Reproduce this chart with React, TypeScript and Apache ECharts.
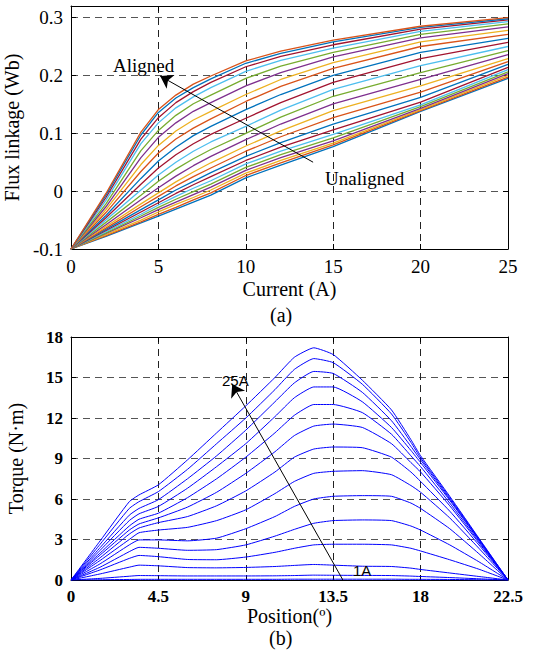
import React, { useEffect, useRef } from "react";
import * as echarts from "echarts";

// ---------- (a) Flux linkage vs current ----------
const currentA = [0, 2, 4, 5, 6, 7, 8, 10, 12, 15, 20, 25];
// curves from unaligned (index 0, bottom) to aligned (index 22, top)
const fluxCurves: number[][] = [
  [-0.1, -0.078, -0.055, -0.043, -0.031, -0.019, -0.007, 0.023, 0.045, 0.077, 0.138, 0.195],
  [-0.1, -0.077, -0.053, -0.04, -0.028, -0.015, -0.003, 0.027, 0.049, 0.08, 0.139, 0.197],
  [-0.1, -0.075, -0.05, -0.036, -0.023, -0.011, 0.002, 0.031, 0.053, 0.083, 0.141, 0.2],
  [-0.1, -0.073, -0.046, -0.032, -0.019, -0.006, 0.007, 0.036, 0.058, 0.087, 0.143, 0.203],
  [-0.1, -0.072, -0.043, -0.028, -0.014, -0.001, 0.012, 0.041, 0.063, 0.092, 0.146, 0.206],
  [-0.1, -0.07, -0.04, -0.024, -0.009, 0.005, 0.018, 0.047, 0.069, 0.098, 0.149, 0.21],
  [-0.1, -0.068, -0.036, -0.02, -0.004, 0.011, 0.025, 0.053, 0.076, 0.106, 0.154, 0.214],
  [-0.1, -0.066, -0.032, -0.015, 0.002, 0.017, 0.032, 0.06, 0.084, 0.116, 0.162, 0.219],
  [-0.1, -0.064, -0.027, -0.009, 0.009, 0.025, 0.04, 0.069, 0.094, 0.127, 0.171, 0.224],
  [-0.1, -0.061, -0.022, -0.003, 0.016, 0.033, 0.049, 0.078, 0.104, 0.139, 0.182, 0.229],
  [-0.1, -0.058, -0.015, 0.006, 0.026, 0.044, 0.06, 0.089, 0.116, 0.151, 0.193, 0.236],
  [-0.1, -0.054, -0.007, 0.017, 0.038, 0.056, 0.072, 0.1, 0.128, 0.164, 0.205, 0.243],
  [-0.1, -0.05, 0.002, 0.028, 0.05, 0.069, 0.085, 0.112, 0.14, 0.176, 0.217, 0.25],
  [-0.1, -0.046, 0.012, 0.04, 0.063, 0.082, 0.098, 0.126, 0.153, 0.188, 0.229, 0.257],
  [-0.1, -0.042, 0.022, 0.052, 0.076, 0.096, 0.112, 0.141, 0.167, 0.2, 0.24, 0.264],
  [-0.1, -0.037, 0.034, 0.066, 0.09, 0.109, 0.125, 0.155, 0.181, 0.212, 0.25, 0.271],
  [-0.1, -0.032, 0.046, 0.079, 0.104, 0.123, 0.138, 0.167, 0.193, 0.222, 0.258, 0.278],
  [-0.1, -0.027, 0.058, 0.093, 0.118, 0.138, 0.153, 0.182, 0.205, 0.232, 0.265, 0.284],
  [-0.1, -0.022, 0.07, 0.105, 0.131, 0.151, 0.166, 0.195, 0.216, 0.24, 0.271, 0.289],
  [-0.1, -0.016, 0.082, 0.118, 0.144, 0.163, 0.179, 0.207, 0.226, 0.247, 0.276, 0.293],
  [-0.1, -0.011, 0.09, 0.127, 0.153, 0.172, 0.188, 0.215, 0.233, 0.253, 0.28, 0.296],
  [-0.1, -0.007, 0.097, 0.136, 0.161, 0.179, 0.194, 0.221, 0.238, 0.258, 0.283, 0.298],
  [-0.1, -0.004, 0.102, 0.141, 0.166, 0.185, 0.199, 0.225, 0.242, 0.261, 0.285, 0.3],
];
const fluxColors = ["#0072BD", "#D95319", "#EDB120", "#7E2F8E", "#77AC30", "#4DBEEE", "#A2142F"];

// ---------- (b) Torque vs position ----------
const positionDeg = [0, 1.5, 3, 3.5, 4.5, 6, 7.5, 9, 10.5, 11.5, 12.5, 13.5, 15, 16.5, 17.5, 18, 19.5, 21, 22.5];
const torqueCurves: number[][] = [
  [0, 0.02, 0.04, 0.05, 0.05, 0.05, 0.05, 0.05, 0.05, 0.06, 0.06, 0.06, 0.06, 0.06, 0.05, 0.05, 0.04, 0.02, 0],
  [0, 0.12, 0.28, 0.33, 0.32, 0.3, 0.3, 0.3, 0.31, 0.33, 0.36, 0.35, 0.34, 0.33, 0.29, 0.26, 0.18, 0.09, 0],
  [0, 0.45, 0.95, 1.1, 1.05, 0.92, 0.9, 0.93, 1.0, 1.08, 1.15, 1.1, 1.02, 1.0, 0.88, 0.78, 0.52, 0.26, 0],
  [0, 0.75, 1.6, 1.82, 1.73, 1.52, 1.5, 1.7, 2.05, 2.35, 2.6, 2.65, 2.65, 2.6, 2.35, 2.15, 1.5, 0.8, 0],
  [0, 0.95, 2.1, 2.42, 2.35, 2.2, 2.25, 2.6, 3.25, 3.75, 4.2, 4.4, 4.45, 4.4, 4.0, 3.7, 2.6, 1.35, 0],
  [0, 1.2, 2.6, 2.97, 2.97, 2.9, 3.1, 3.8, 4.7, 5.45, 6.0, 6.2, 6.25, 6.2, 5.7, 5.3, 3.8, 1.95, 0],
  [0, 1.45, 3.0, 3.5, 3.7, 3.9, 4.4, 5.2, 6.4, 7.3, 7.9, 8.05, 8.1, 7.8, 7.0, 6.5, 4.6, 2.35, 0],
  [0, 1.65, 3.4, 3.85, 4.25, 4.7, 5.5, 6.6, 8.0, 9.1, 9.7, 9.85, 9.8, 9.1, 8.0, 7.3, 5.1, 2.6, 0],
  [0, 1.85, 3.7, 4.15, 4.6, 5.4, 6.5, 7.9, 9.5, 10.7, 11.4, 11.55, 11.3, 10.1, 8.7, 8.0, 5.5, 2.75, 0],
  [0, 2.0, 4.0, 4.5, 4.95, 6.1, 7.5, 9.1, 10.9, 12.2, 13.0, 13.0, 12.4, 10.8, 9.2, 8.4, 5.7, 2.85, 0],
  [0, 2.2, 4.4, 4.9, 5.45, 6.8, 8.4, 10.1, 12.1, 13.5, 14.3, 14.3, 13.2, 11.3, 9.6, 8.7, 5.9, 2.95, 0],
  [0, 2.4, 4.8, 5.3, 5.95, 7.5, 9.2, 11.1, 13.2, 14.6, 15.45, 15.3, 13.9, 11.8, 9.9, 8.9, 6.0, 3.0, 0],
  [0, 2.65, 5.3, 5.8, 6.55, 8.2, 10.1, 12.0, 14.1, 15.6, 16.4, 16.1, 14.5, 12.3, 10.2, 9.05, 6.1, 3.05, 0],
  [0, 2.9, 5.8, 6.3, 7.05, 8.9, 10.9, 12.9, 15.0, 16.5, 17.2, 16.7, 14.8, 12.6, 10.4, 9.2, 6.2, 3.1, 0],
];

const SERIF = "Liberation Serif";
const SANS = "Liberation Sans";

export default function App() {
  const ref = useRef<HTMLDivElement>(null);
  useEffect(() => {
    if (!ref.current) return;
    const chart = echarts.init(ref.current, undefined, { renderer: "svg" });

    const dashed = (color: string) => ({
      show: true,
      lineStyle: { color, type: [7, 5] as any, width: 1 },
    });
    const axisLine = { show: true, onZero: false, lineStyle: { color: "#000", width: 1 } };
    const tickIn = { show: true, inside: true, length: 5, lineStyle: { color: "#000" } };

    const arrowLine = (from: number[], to: number[]) => ({
      silent: true,
      symbol: ["none", "arrow"],
      symbolSize: 12,
      label: { show: false },
      lineStyle: { color: "#000", width: 1, type: "solid" },
      itemStyle: { color: "#000" },
      data: [[{ coord: from }, { coord: to }]],
      z: 10,
    });

    const fluxSeries = fluxCurves.map((c, i) => ({
      type: "line",
      name: "flux" + i,
      xAxisIndex: 0,
      yAxisIndex: 0,
      data: currentA.map((x, k) => [x, c[k]]),
      showSymbol: false,
      lineStyle: { width: 1.3, color: fluxColors[i % 7] },
      itemStyle: { color: fluxColors[i % 7] },
      z: 3,
      ...(i === fluxCurves.length - 1 ? { markLine: arrowLine([13.85, 0.05], [5.1, 0.199]) } : {}),
    }));

    const torqueSeries = torqueCurves.map((c, i) => ({
      type: "line",
      name: "torque" + i,
      xAxisIndex: 2,
      yAxisIndex: 2,
      data: positionDeg.map((x, k) => [x, c[k]]),
      showSymbol: false,
      smooth: 0.15,
      lineStyle: { width: 1, color: "#0000FF" },
      itemStyle: { color: "#0000FF" },
      z: 3,
      ...(i === torqueCurves.length - 1 ? { markLine: arrowLine([14.0, 0], [8.3, 14.5]) } : {}),
    }));

    const fluxLabel = (v: number) => {
      const r = Math.round(v * 10);
      if (Math.abs(v * 10 - r) > 1e-6) return "";
      return String(r / 10);
    };

    chart.setOption({
      animation: false,
      backgroundColor: "#fff",
      grid: [
        { left: 71, right: 35, top: 6, height: 243, show: false, containLabel: false, outerBoundsMode: "none" },
        { left: 71, right: 35, top: 337, height: 243, show: false, containLabel: false, outerBoundsMode: "none" },
      ],
      xAxis: [
        {
          type: "value", gridIndex: 0, min: 0, max: 25, interval: 5,
          axisLine, axisTick: tickIn,
          axisLabel: { color: "#000", fontFamily: SERIF, fontSize: 19, margin: 8 },
          splitLine: dashed("#222"),
          name: "Current (A)", nameLocation: "middle", nameGap: 30,
          nameTextStyle: { color: "#000", fontFamily: SERIF, fontSize: 20 },
        },
        {
          type: "value", gridIndex: 0, position: "top", min: 0, max: 25, interval: 5,
          axisLine, axisTick: tickIn,
          axisLabel: { show: false }, splitLine: { show: false },
        },
        {
          type: "value", gridIndex: 1, min: 0, max: 22.5, interval: 4.5,
          axisLine, axisTick: tickIn,
          axisLabel: { color: "#000", fontFamily: SERIF, fontSize: 17, fontWeight: "bold", margin: 8 },
          splitLine: dashed("#222"),
          name: "Position(º)", nameLocation: "middle", nameGap: 26,
          nameTextStyle: { color: "#000", fontFamily: SERIF, fontSize: 20 },
        },
        {
          type: "value", gridIndex: 1, position: "top", min: 0, max: 22.5, interval: 4.5,
          axisLine, axisTick: tickIn,
          axisLabel: { show: false }, splitLine: { show: false },
        },
      ],
      yAxis: [
        {
          type: "value", gridIndex: 0, min: -0.1, max: 0.32, interval: 0.1,
          axisLine, axisTick: tickIn,
          axisLabel: { color: "#000", fontFamily: SERIF, fontSize: 19, margin: 8, formatter: fluxLabel, showMaxLabel: false },
          splitLine: dashed("#555"),
          name: "Flux linkage (Wb)", nameLocation: "middle", nameGap: 40,
          nameTextStyle: { color: "#000", fontFamily: SERIF, fontSize: 20 },
        },
        {
          type: "value", gridIndex: 0, position: "right", min: -0.1, max: 0.32, interval: 0.1,
          axisLine, axisTick: tickIn,
          axisLabel: { show: false }, splitLine: { show: false },
        },
        {
          type: "value", gridIndex: 1, min: 0, max: 18, interval: 3,
          axisLine, axisTick: tickIn,
          axisLabel: { color: "#000", fontFamily: SERIF, fontSize: 17, fontWeight: "bold", margin: 8 },
          splitLine: dashed("#555"),
          name: "Torque (N·m)", nameLocation: "middle", nameGap: 45,
          nameTextStyle: { color: "#000", fontFamily: SERIF, fontSize: 20 },
        },
        {
          type: "value", gridIndex: 1, position: "right", min: 0, max: 18, interval: 3,
          axisLine, axisTick: tickIn,
          axisLabel: { show: false }, splitLine: { show: false },
        },
      ],
      series: [...fluxSeries, ...torqueSeries],
      graphic: [
        { type: "text", left: 113, top: 56, style: { text: "Aligned", fill: "#000", font: `19px "${SERIF}"` }, z: 20 },
        { type: "text", left: 325, top: 169, style: { text: "Unaligned", fill: "#000", font: `19px "${SERIF}"` }, z: 20 },
        { type: "text", left: 270, top: 305, style: { text: "(a)", fill: "#000", font: `20px "${SERIF}"` }, z: 20 },
        { type: "text", left: 269, top: 628, style: { text: "(b)", fill: "#000", font: `20px "${SERIF}"` }, z: 20 },
        { type: "text", left: 222, top: 373, style: { text: "25A", fill: "#000", font: `15px "${SANS}"` }, z: 20 },
        { type: "text", left: 353, top: 563, style: { text: "1A", fill: "#000", font: `15px "${SANS}"` }, z: 20 },
      ],
    });
    return () => chart.dispose();
  }, []);
  return (
    <div
      ref={ref}
      style={{ position: "fixed", left: 0, top: 0, width: 543, height: 654, background: "#fff" }}
    />
  );
}
